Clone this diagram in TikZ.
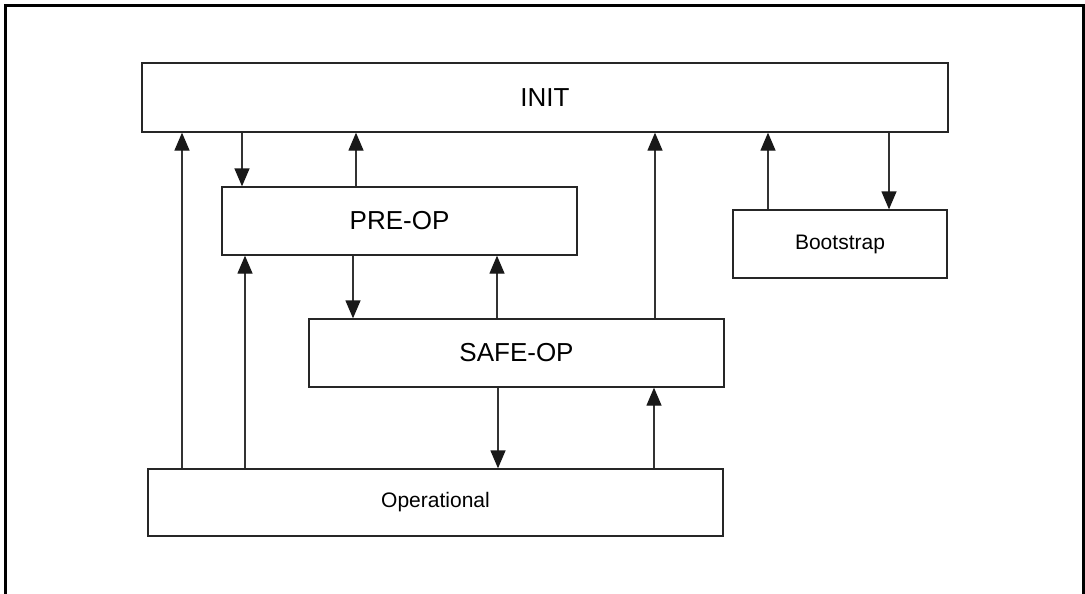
\documentclass[tikz,border=0pt]{standalone}
\usepackage{fontspec}
\setmainfont{Liberation Sans}
\usetikzlibrary{arrows.meta}
\tikzset{
  statebox/.style={draw=black!85, line width=1.3pt, inner sep=0pt},
  bigstate/.style={statebox, font=\fontsize{26}{30}\selectfont},
  smallstate/.style={statebox, font=\fontsize{21}{25}\selectfont},
  trans/.style={draw=black!80, line width=1.3pt, -{Triangle[width=15pt,length=18pt,color=black!90]}}
}
\begin{document}
\begin{tikzpicture}[x=1pt,y=-1pt]
\useasboundingbox (0,0) rectangle (1085,594);
\draw[line width=2.4pt] (5.5,640) -- (5.5,5.5) -- (1083.5,5.5) -- (1083.5,640);
% states
\node[bigstate, minimum width=806, minimum height=69] (init) at (545,97.5) {INIT};
\node[bigstate, minimum width=355, minimum height=68] (preop) at (399.5,221) {PRE-OP};
\node[bigstate, minimum width=415, minimum height=68] (safeop) at (516.5,353) {SAFE-OP};
\node[smallstate, minimum width=214, minimum height=68] (boot) at (840,244) {Bootstrap};
\node[smallstate, minimum width=575, minimum height=67] (op) at (435.5,502.5) {Operational};
% columns of the transitions
\foreach \n/\x in {xa/182, xb/242, xc/356, xd/245, xe/353, xf/497, xg/655, xh/768, xk/889, xm/498, xp/654}
  \coordinate (\n) at (\x,0);
\draw[trans] (op.north -| xa) -- (init.south -| xa);
\draw[trans] (init.south -| xb) -- (preop.north -| xb);
\draw[trans] (preop.north -| xc) -- (init.south -| xc);
\draw[trans] (op.north -| xd) -- (preop.south -| xd);
\draw[trans] (preop.south -| xe) -- (safeop.north -| xe);
\draw[trans] (safeop.north -| xf) -- (preop.south -| xf);
\draw[trans] (safeop.north -| xg) -- (init.south -| xg);
\draw[trans] (boot.north -| xh) -- (init.south -| xh);
\draw[trans] (init.south -| xk) -- (boot.north -| xk);
\draw[trans] (safeop.south -| xm) -- (op.north -| xm);
\draw[trans] (op.north -| xp) -- (safeop.south -| xp);
\end{tikzpicture}
\end{document}
